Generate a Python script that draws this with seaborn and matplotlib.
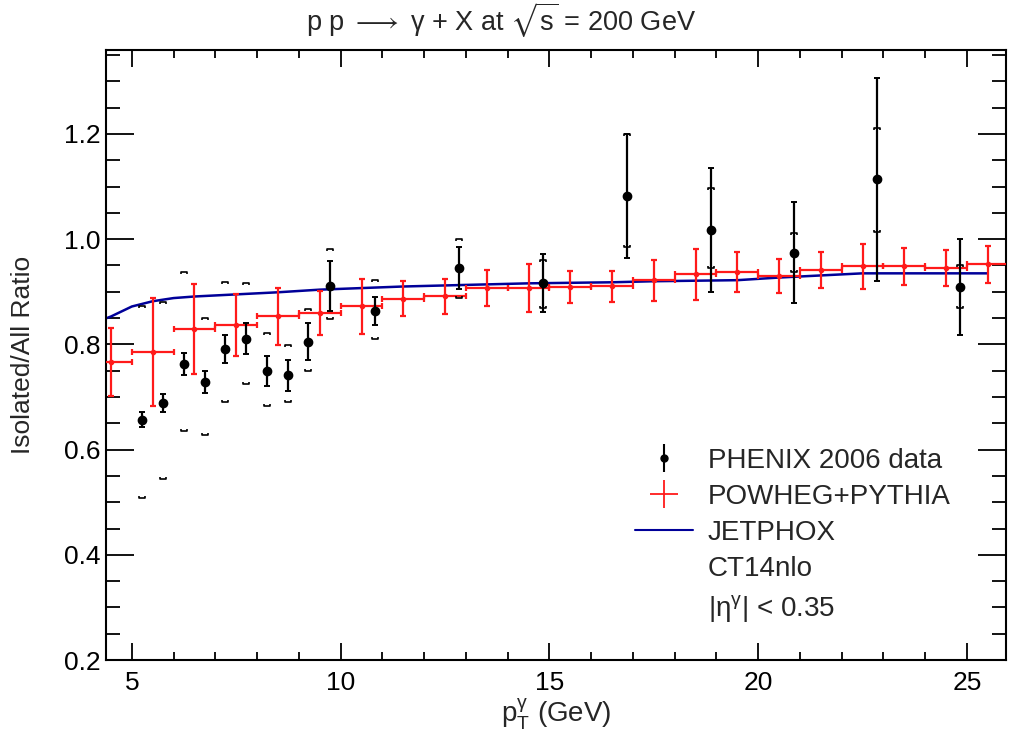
import matplotlib
matplotlib.use('Agg')
import numpy as np
import pandas as pd
import matplotlib.pyplot as plt
import seaborn as sns
from matplotlib.lines import Line2D
from matplotlib.path import Path
from matplotlib.ticker import MultipleLocator

# PHENIX 2006 data: pT, ratio, stat error, systematic band (low / high)
phenix_pt = [5.24, 5.74, 6.25, 6.74, 7.24, 7.73, 8.23, 8.74, 9.23, 9.74,
             10.82, 12.83, 14.85, 16.86, 18.86, 20.86, 22.85, 24.84]
phenix_ratio = [0.657, 0.689, 0.763, 0.729, 0.791, 0.811, 0.749, 0.741, 0.805, 0.911,
                0.863, 0.945, 0.916, 1.082, 1.017, 0.974, 1.114, 0.909]
phenix_stat = [0.014, 0.017, 0.021, 0.021, 0.027, 0.029, 0.028, 0.029, 0.035, 0.047,
               0.027, 0.040, 0.055, 0.118, 0.118, 0.096, 0.193, 0.091]
phenix_sys_lo = [0.508, 0.545, 0.635, 0.628, 0.690, 0.724, 0.683, 0.690, 0.750, 0.848,
                 0.811, 0.889, 0.870, 0.986, 0.946, 0.938, 1.014, 0.870]
phenix_sys_hi = [0.873, 0.881, 0.938, 0.851, 0.918, 0.917, 0.822, 0.799, 0.868, 0.982,
                 0.922, 1.000, 0.960, 1.200, 1.097, 1.012, 1.212, 0.950]

# POWHEG+PYTHIA, 1 GeV bins
powheg_pt = [4.5, 5.5, 6.5, 7.5, 8.5, 9.5, 10.5, 11.5, 12.5, 13.5, 14.5,
             15.5, 16.5, 17.5, 18.5, 19.5, 20.5, 21.5, 22.5, 23.5, 24.5, 25.5]
powheg_ratio = [0.767, 0.786, 0.829, 0.837, 0.853, 0.859, 0.872, 0.887, 0.891, 0.907, 0.907,
                0.909, 0.910, 0.922, 0.933, 0.938, 0.930, 0.941, 0.948, 0.948, 0.945, 0.952]
powheg_err = [0.065, 0.103, 0.086, 0.059, 0.054, 0.042, 0.053, 0.034, 0.033, 0.034, 0.045,
              0.031, 0.029, 0.039, 0.048, 0.038, 0.033, 0.034, 0.042, 0.035, 0.034, 0.035]
powheg_binw = 0.5

# JETPHOX
jetphox_pt = [4.4, 4.5, 5.0, 5.5, 6.0, 6.5, 7.5, 8.5, 9.5, 10.5, 11.5, 12.5, 13.5,
              14.5, 15.5, 16.5, 17.5, 18.5, 19.5, 20.5, 21.5, 22.5, 23.5, 24.5, 25.5]
jetphox_ratio = [0.850, 0.853, 0.872, 0.882, 0.888, 0.891, 0.895, 0.899, 0.904, 0.907, 0.910,
                 0.912, 0.914, 0.916, 0.917, 0.918, 0.920, 0.921, 0.922, 0.927, 0.931,
                 0.935, 0.935, 0.935, 0.935]

sns.set_theme(style='ticks')
plt.rcParams['font.family'] = ['Liberation Sans', 'DejaVu Sans']
plt.rcParams['mathtext.fontset'] = 'custom'
plt.rcParams['mathtext.rm'] = 'Liberation Sans'
plt.rcParams['mathtext.it'] = 'Liberation Sans:italic'
plt.rcParams['mathtext.sf'] = 'Liberation Sans'
plt.rcParams['mathtext.fallback'] = 'stixsans'

fig = plt.figure(figsize=(10.19, 7.31), dpi=100)
ax = fig.add_axes([0.104, 0.097, 0.883, 0.835])

# JETPHOX curve
jet = pd.DataFrame({'pt': jetphox_pt, 'ratio': jetphox_ratio})
sns.lineplot(data=jet, x='pt', y='ratio', ax=ax, color='#000099', linewidth=1.8,
             legend=False, zorder=2)

# POWHEG crosses
ax.errorbar(powheg_pt, powheg_ratio, xerr=powheg_binw, yerr=powheg_err,
            fmt='o', color='#ff1a1a', markersize=3, elinewidth=1.6,
            capsize=2.5, capthick=1.6, zorder=3)

# PHENIX systematic brackets
top_br = Path([(-1, -0.7), (-1, 0), (1, 0), (1, -0.7)])
bot_br = Path([(-1, 0.7), (-1, 0), (1, 0), (1, 0.7)])
ax.plot(phenix_pt, phenix_sys_hi, linestyle='none', marker=top_br, markersize=4,
        markerfacecolor='none', markeredgecolor='black', markeredgewidth=1.2, zorder=4)
ax.plot(phenix_pt, phenix_sys_lo, linestyle='none', marker=bot_br, markersize=4,
        markerfacecolor='none', markeredgecolor='black', markeredgewidth=1.2, zorder=4)

# PHENIX data with stat errors
ax.errorbar(phenix_pt, phenix_ratio, yerr=phenix_stat, fmt='o', color='black',
            markersize=6, elinewidth=1.6, capsize=2, capthick=1.4, zorder=5)

ax.set_xlim(4.38, 25.93)
ax.set_ylim(0.2, 1.36)
ax.xaxis.set_major_locator(MultipleLocator(5))
ax.xaxis.set_minor_locator(MultipleLocator(1))
ax.yaxis.set_major_locator(MultipleLocator(0.2))
ax.yaxis.set_minor_locator(MultipleLocator(0.05))
ax.xaxis.set_major_formatter(matplotlib.ticker.FormatStrFormatter('%g'))
ax.yaxis.set_major_formatter(matplotlib.ticker.FormatStrFormatter('%.1f'))

ax.tick_params(axis='both', which='both', direction='in', top=True, right=True,
               colors='black', width=1.3, labelsize=19)
ax.tick_params(axis='x', which='major', length=12.5, pad=8)
ax.tick_params(axis='x', which='minor', length=6)
ax.tick_params(axis='y', which='major', length=20, pad=4)
ax.tick_params(axis='y', which='minor', length=10)
for sp in ax.spines.values():
    sp.set_linewidth(1.5)
    sp.set_color('black')

ax.set_xlabel(r'p$_{\mathrm{T}}^{\mathrm{γ}}$ (GeV)', fontsize=20, labelpad=1)
ax.set_ylabel('Isolated/All Ratio', fontsize=19)
ax.yaxis.set_label_coords(-0.079, 0.5)
fig.text(0.492, 0.972, r'p p $\longrightarrow$ γ + X at $\sqrt{\mathrm{s}}$ = 200 GeV',
         fontsize=19.5, ha='center', va='center')

blank = Line2D([], [], color='none')
jet_handle = Line2D([], [], color='#000099', linewidth=1.5)
pw_handle = ax.errorbar([], [], xerr=[], yerr=[], fmt='none', color='#ff1a1a',
                        elinewidth=1.3, capsize=0)
ph_handle = ax.errorbar([], [], yerr=[], fmt='o', color='black', markersize=5,
                        elinewidth=1.5, capsize=0)
ax.legend([ph_handle, pw_handle, jet_handle, blank, blank],
          ['PHENIX 2006 data', 'POWHEG+PYTHIA', 'JETPHOX', 'CT14nlo',
           r'|η$^{\mathrm{γ}}$| < 0.35'],
          loc='upper left', bbox_to_anchor=(0.612, 0.403), bbox_transform=fig.transFigure,
          borderaxespad=0, frameon=False, fontsize=20, handlelength=2.1,
          handletextpad=0.54, labelspacing=0.37)

fig.savefig('out.png', dpi=100)
